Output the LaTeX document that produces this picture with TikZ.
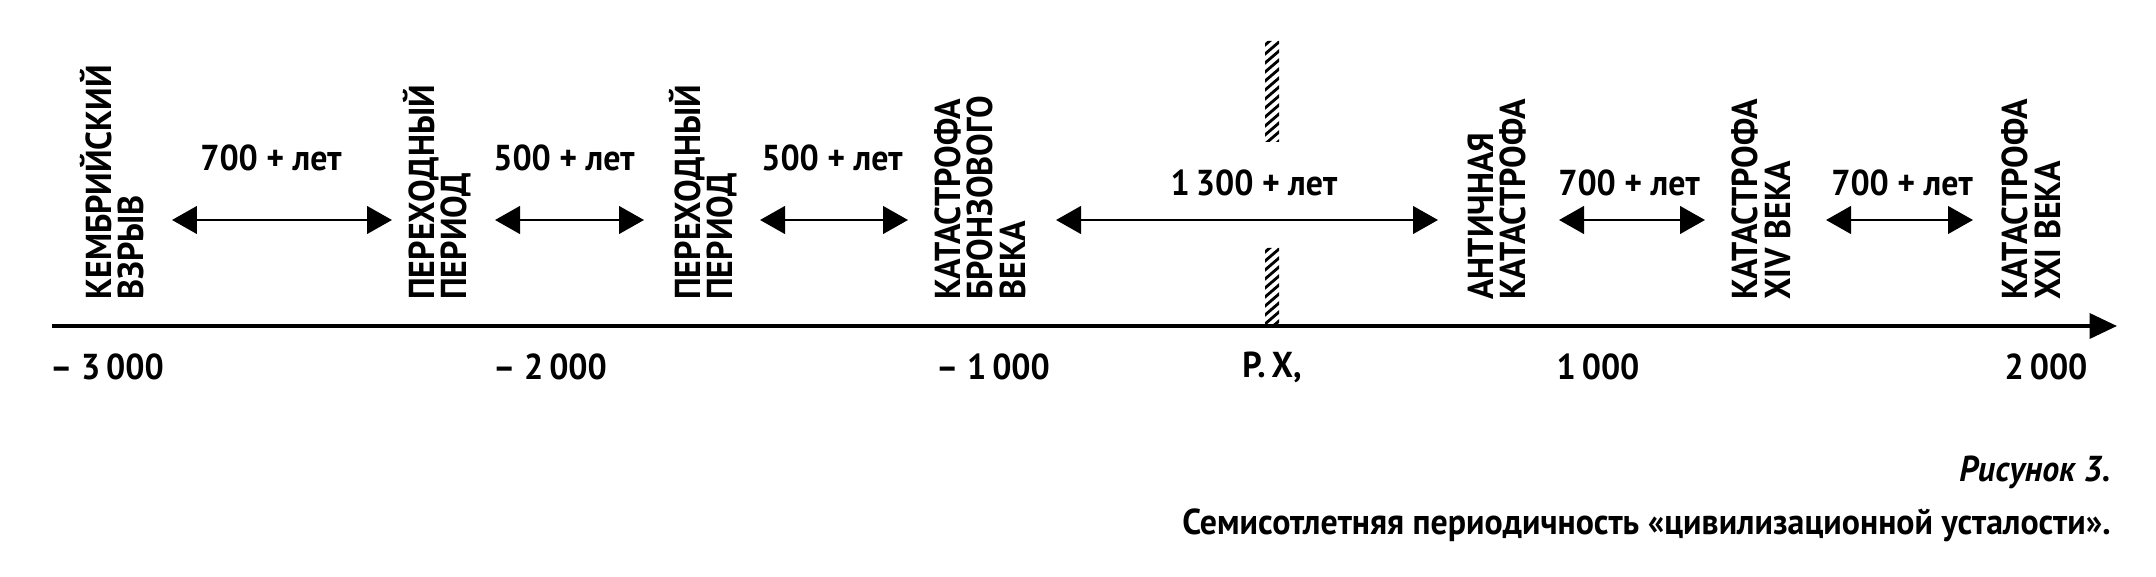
\documentclass[tikz,border=0pt]{standalone}
\usepackage{fontspec}
\setmainfont{PT Sans}[FakeStretch=0.94]
\usetikzlibrary{arrows.meta}

\begin{document}
\begin{tikzpicture}[x=0.02cm, y=-0.02cm,
    event/.style={rotate=90, anchor=west, align=left, inner sep=0pt,
        font=\fontsize{20.5}{18.5}\selectfont\bfseries},
    span/.style={inner sep=0pt, font=\fontsize{20.5}{24}\selectfont\bfseries},
    year/.style={inner sep=0pt, font=\fontsize{20.5}{24}\selectfont\bfseries},
    gap/.style={{Triangle[length=0.5cm,width=0.55cm]}-{Triangle[length=0.5cm,width=0.55cm]},
        line width=1.6pt}]

    % Frame
    \useasboundingbox (0,0) rectangle (2156,577);

    % Axis
    \coordinate (axstart) at (52,326);
    \coordinate (axend) at (2117,326);
    \draw[-{Triangle[length=0.55cm,width=0.5cm]}, line width=2.2pt] (axstart) -- (axend);

    % Years under the axis
    \node[year] (y3000) at (107,367) {– 3\,000};
    \node[year] (y2000) at (550,367) {– 2\,000};
    \node[year] (y1000) at (993,367) {– 1\,000};
    \node[year] (yrx) at (1272,367) {Р.\,Х,};
    \node[year] (yp1000) at (1598,367) {1\,000};
    \node[year] (yp2000) at (2046,367) {2\,000};

    % Hatched mark at R.Kh.
    \begin{scope}
        \clip (1265,41) rectangle (1279,142) (1265,248) rectangle (1279,326);
        \foreach \y in {30,39,...,345}
            \draw[line width=1.6pt] (1258,\y+12) -- (1286,\y-12);
    \end{scope}

    % Events
    \node[event] (kembr) at (112,300) {КЕМБРИЙСКИЙ\\ВЗРЫВ};
    \node[event] (perA) at (437,300) {ПЕРЕХОДНЫЙ\\ПЕРИОД};
    \node[event] (perB) at (703,300) {ПЕРЕХОДНЫЙ\\ПЕРИОД};
    \node[event] (bronze) at (980,300) {КАТАСТРОФА\\БРОНЗОВОГО\\ВЕКА};
    \node[event] (antic) at (1497,300) {АНТИЧНАЯ\\КАТАСТРОФА};
    \node[event] (xiv) at (1761,300) {КАТАСТРОФА\\XIV ВЕКА};
    \node[event] (xxi) at (2031,300) {КАТАСТРОФА\\XXI ВЕКА};

    % Spans between events
    \coordinate (s1a) at (172,220);  \coordinate (s1b) at (392,220);
    \coordinate (s2a) at (495,220);  \coordinate (s2b) at (644,220);
    \coordinate (s3a) at (760,220);  \coordinate (s3b) at (908,220);
    \coordinate (s4a) at (1056,220); \coordinate (s4b) at (1438,220);
    \coordinate (s5a) at (1559,220); \coordinate (s5b) at (1705,220);
    \coordinate (s6a) at (1826,220); \coordinate (s6b) at (1973,220);
    \draw[gap] (s1a) -- (s1b);
    \draw[gap] (s2a) -- (s2b);
    \draw[gap] (s3a) -- (s3b);
    \draw[gap] (s4a) -- (s4b);
    \draw[gap] (s5a) -- (s5b);
    \draw[gap] (s6a) -- (s6b);

    \node[span] (t1) at (271,158) {700 + лет};
    \node[span] (t2) at (564,158) {500 + лет};
    \node[span] (t3) at (832,158) {500 + лет};
    \node[span] (t4) at (1254,183) {1\,300 + лет};
    \node[span] (t5) at (1629,183) {700 + лет};
    \node[span] (t6) at (1902,183) {700 + лет};

    % Caption
    \node[span, anchor=east] (fig) at (2111,472) {\itshape Рисунок 3.};
    \node[span, anchor=east] (cap) at (2111,525)
        {Семисотлетняя периодичность «цивилизационной усталости».};

\end{tikzpicture}
\end{document}
